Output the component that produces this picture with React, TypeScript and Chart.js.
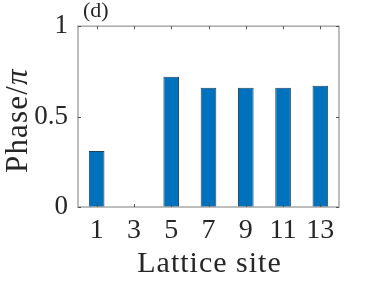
import React, { useEffect, useRef } from 'react';
import { Chart, registerables } from 'chart.js';

Chart.register(...registerables);

const categories = ['1', '3', '5', '7', '9', '11', '13'];
const phaseValues = [0.31, 0, 0.72, 0.66, 0.66, 0.66, 0.67];
const yTickValues = [0, 0.5, 1];
const xTitle = 'Lattice site';
const yTitleMain = 'Phase/';
const yTitleSymbol = 'π';
const panelLabel = '(d)';

const FONT = "'Liberation Serif', 'Times New Roman', serif";
const TEXT = '#262626';

const framePlugin = {
  id: 'matlabFrame',
  afterDatasetsDraw(chart: any) {
    const { ctx, chartArea } = chart;
    const { left, right, top, bottom } = chartArea;
    const xs = chart.scales.x;
    const ys = chart.scales.y;
    ctx.save();
    // box
    ctx.strokeStyle = '#a8a8a8';
    ctx.lineWidth = 1.5;
    ctx.strokeRect(left, top, right - left, bottom - top);
    // inward ticks
    ctx.strokeStyle = '#505050';
    ctx.lineWidth = 1;
    const tl = 3;
    categories.forEach((_, i) => {
      const x = Math.round(xs.getPixelForValue(i)) + 0.5;
      ctx.beginPath();
      ctx.moveTo(x, bottom);
      ctx.lineTo(x, bottom - tl);
      ctx.moveTo(x, top);
      ctx.lineTo(x, top + tl);
      ctx.stroke();
    });
    yTickValues.forEach((v) => {
      const y = Math.round(ys.getPixelForValue(v)) + 0.5;
      ctx.beginPath();
      ctx.moveTo(left, y);
      ctx.lineTo(left + tl, y);
      ctx.moveTo(right, y);
      ctx.lineTo(right - tl, y);
      ctx.stroke();
    });
    // x title
    ctx.fillStyle = TEXT;
    ctx.textBaseline = 'alphabetic';
    ctx.textAlign = 'center';
    ctx.font = `30px ${FONT}`;
    (ctx as any).letterSpacing = '1px';
    ctx.fillText(xTitle, (left + right) / 2 + 1, 272);

    // y title rotated with italic pi
    ctx.save();
    ctx.translate(27, (top + bottom) / 2 + 4);
    ctx.rotate(-Math.PI / 2);
    ctx.textAlign = 'left';
    (ctx as any).letterSpacing = '1.2px';
    ctx.font = `31px ${FONT}`;
    const w1 = ctx.measureText(yTitleMain).width;
    ctx.font = `italic 31px ${FONT}`;
    const w2 = ctx.measureText(yTitleSymbol).width;
    const start = -(w1 + w2) / 2;
    ctx.font = `31px ${FONT}`;
    ctx.fillText(yTitleMain, start, 0);
    ctx.font = `italic 31px ${FONT}`;
    ctx.fillText(yTitleSymbol, start + w1, 0);
    ctx.restore();

    // panel label
    (ctx as any).letterSpacing = '0px';
    ctx.textAlign = 'left';
    ctx.font = `22px ${FONT}`;
    ctx.fillText(panelLabel, 83, 17);
    ctx.restore();
  },
};

export default function App() {
  const ref = useRef<HTMLCanvasElement | null>(null);
  useEffect(() => {
    if (!ref.current) return;
    const chart = new Chart(ref.current, {
      type: 'bar',
      data: {
        labels: categories,
        datasets: [
          {
            data: phaseValues,
            backgroundColor: '#0072BD',
            borderColor: '#22405f',
            borderWidth: 1,
            barPercentage: 0.42,
            categoryPercentage: 1,
          },
        ],
      },
      options: {
        animation: false,
        responsive: false,
        devicePixelRatio: 1,
        layout: { padding: { top: 21, right: 35, left: 0, bottom: 0 } },
        plugins: { legend: { display: false }, tooltip: { enabled: false } },
        scales: {
          x: {
            type: 'category',
            offset: true,
            grid: { display: false, drawTicks: false },
            border: { display: false },
            ticks: {
              color: TEXT,
              font: { family: FONT, size: 28 },
              padding: 7,
              maxRotation: 0,
              autoSkip: false,
            },
            afterFit: (s: any) => {
              s.height = 74;
            },
          },
          y: {
            min: 0,
            max: 1,
            grid: { display: false, drawTicks: false },
            border: { display: false },
            ticks: {
              color: TEXT,
              font: { family: FONT, size: 27 },
              padding: 10,
              stepSize: 0.5,
              callback: (v: any) => String(v),
            },
            afterFit: (s: any) => {
              s.width = 78;
            },
          },
        },
      },
      plugins: [framePlugin],
    });
    return () => chart.destroy();
  }, []);
  return (
    <div style={{ position: 'fixed', left: 0, top: 0, width: 374, height: 281, background: '#fff' }}>
      <canvas ref={ref} width={374} height={281} />
    </div>
  );
}
